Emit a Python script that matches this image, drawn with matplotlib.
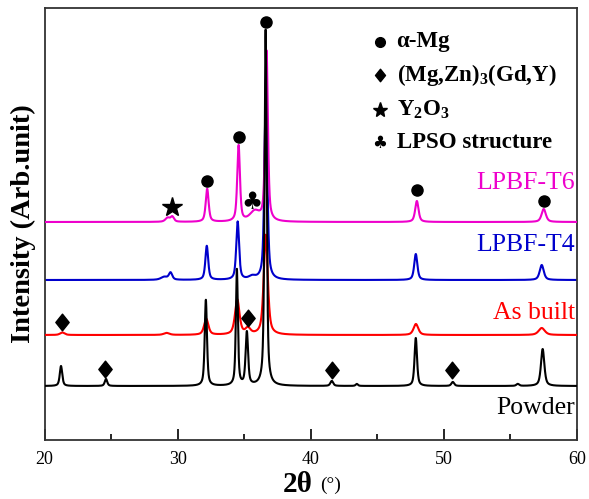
import numpy as np
import matplotlib
matplotlib.use("Agg")
import matplotlib.pyplot as plt
from matplotlib.path import Path

plt.rcParams['font.family'] = ['Liberation Serif', 'DejaVu Sans']
plt.rcParams['mathtext.fontset'] = 'custom'
plt.rcParams['mathtext.rm'] = 'Liberation Serif'
plt.rcParams['mathtext.bf'] = 'Liberation Serif:bold'
plt.rcParams['mathtext.it'] = 'Liberation Serif:italic'

# ---------------- data ----------------
series_names = ["Powder", "As built", "LPBF-T4", "LPBF-T6"]
series_colors = ["black", "#ff0000", "#0000cc", "#ee00cc"]
offsets = [54, 105, 160, 218]

powder_pos = [21.24, 24.62, 32.12, 34.45, 35.20, 36.61, 41.58, 43.46, 47.89, 50.67, 55.55, 57.42]
powder_hgt = [20, 7, 86, 116, 53, 356, 5, 2, 48, 4, 2, 37]
powder_fwhm = [0.22, 0.22, 0.2, 0.18, 0.22, 0.19, 0.25, 0.2, 0.22, 0.25, 0.25, 0.3]

asbuilt_pos = [21.34, 29.17, 32.15, 34.48, 35.28, 36.62, 47.9, 57.35]
asbuilt_hgt = [2.5, 2, 16, 35, 6, 100, 11, 7]
asbuilt_fwhm = [0.4, 0.5, 0.38, 0.4, 0.45, 0.36, 0.42, 0.55]

t4_pos = [29.0, 29.47, 32.19, 34.51, 35.6, 36.63, 47.89, 57.35]
t4_hgt = [3, 7, 34, 58, 3, 200, 26, 15]
t4_fwhm = [0.6, 0.3, 0.25, 0.25, 0.6, 0.25, 0.28, 0.36]

t6_pos = [29.25, 29.6, 32.22, 34.58, 35.8, 36.68, 47.97, 57.5]
t6_hgt = [4, 5, 33, 76, 10, 170, 21, 13]
t6_fwhm = [0.4, 0.3, 0.26, 0.24, 0.9, 0.24, 0.3, 0.38]

# phase markers
dot_x = [32.22, 34.62, 36.61, 47.97, 57.5]
dot_y = [259, 303, 418, 250, 239]
diamond_x = [21.34, 35.25, 24.57, 41.56, 50.6]
diamond_y = [118, 122, 71, 70, 70]
star_x = [29.55]
star_y = [233]
club_x = [35.6]
club_y = [238]

legend_labels = ["α-Mg", "(Mg,Zn)$_\\mathbf{3}$(Gd,Y)", "Y$_\\mathbf{2}$O$_\\mathbf{3}$", "LPSO structure"]
label_y = [32, 127, 195, 257]

xticks = [20, 30, 40, 50, 60]
xminor = [25, 35, 45, 55]


def profile(x, pos, hgt, fwhm, eta=0.6):
    y = np.zeros_like(x)
    for p, h, w in zip(pos, hgt, fwhm):
        g = w / 2.0
        lor = 1.0 / (1.0 + ((x - p) / g) ** 2)
        gau = np.exp(-np.log(2) * ((x - p) / g) ** 2)
        y += h * (eta * lor + (1 - eta) * gau)
    return y


x = np.linspace(20, 60, 8001)
all_peaks = [(powder_pos, powder_hgt, powder_fwhm),
             (asbuilt_pos, asbuilt_hgt, asbuilt_fwhm),
             (t4_pos, t4_hgt, t4_fwhm),
             (t6_pos, t6_hgt, t6_fwhm)]

fig = plt.figure(figsize=(5.89, 4.99), dpi=100)
ax = fig.add_axes([44.5 / 589, 59 / 499, (577 - 44.5) / 589, 432 / 499])

zorders = [5, 4, 2, 3]
for i in range(4):
    pos, hgt, fw = all_peaks[i]
    ax.plot(x, offsets[i] + profile(x, pos, hgt, fw), color=series_colors[i],
            lw=1.5, zorder=zorders[i])

# series labels
for i in range(4):
    ax.text(59.85, label_y[i], series_names[i], color=series_colors[i], fontsize=18.5,
            ha='right', va='center')

# markers
ax.plot(dot_x, dot_y, 'o', color='black', ms=8, zorder=6)
dverts = [(0, 1), (0.8, 0), (0, -1), (-0.8, 0), (0, 1)]
dmark = Path(dverts, [Path.MOVETO, Path.LINETO, Path.LINETO, Path.LINETO, Path.CLOSEPOLY])
ax.plot(diamond_x, diamond_y, linestyle='none', marker=dmark, color='black', ms=12, zorder=6)
ax.plot(star_x, star_y, '*', color='black', ms=15, zorder=6)
for cx, cy in zip(club_x, club_y):
    ax.text(cx, cy, "♣", fontsize=17, family='DejaVu Sans', ha='center', va='center', zorder=6)

# legend (phase key)
leg_x_sym = 45.2
leg_x_txt = 46.45
leg_y = [398, 365, 330, 297]
ax.plot([leg_x_sym], [leg_y[0]], 'o', color='black', ms=7)
ax.plot([leg_x_sym], [leg_y[1]], linestyle='none', marker=dmark, color='black', ms=9)
ax.plot([leg_x_sym], [leg_y[2]], '*', color='black', ms=11)
ax.text(leg_x_sym, leg_y[3], "♣", fontsize=12, family='DejaVu Sans', ha='center', va='center')
for yy, t in zip(leg_y, legend_labels):
    ax.text(leg_x_txt, yy, t, fontsize=16.5, fontweight='bold', ha='left', va='center')

ax.set_xlim(20, 60)
ax.set_ylim(0, 432)
ax.set_yticks([])
ax.set_xticks(xticks)
ax.set_xticks(xminor, minor=True)
ax.tick_params(axis='x', which='major', direction='in', length=8, width=1.2, labelsize=13, pad=8)
ax.tick_params(axis='x', which='minor', direction='in', length=4, width=1.2)
for s in ax.spines.values():
    s.set_linewidth(1.3)
    s.set_color('#333333')

ax.set_ylabel("Intensity (Arb.unit)", fontsize=20.5, fontweight='bold', labelpad=6)
fig.text(298 / 589, 15 / 499, "2θ", fontsize=21, fontweight='bold', ha='center', va='center')
fig.text(331 / 589, 14 / 499, "(°)", fontsize=14, ha='center', va='center')

fig.savefig("out.png", dpi=100)
